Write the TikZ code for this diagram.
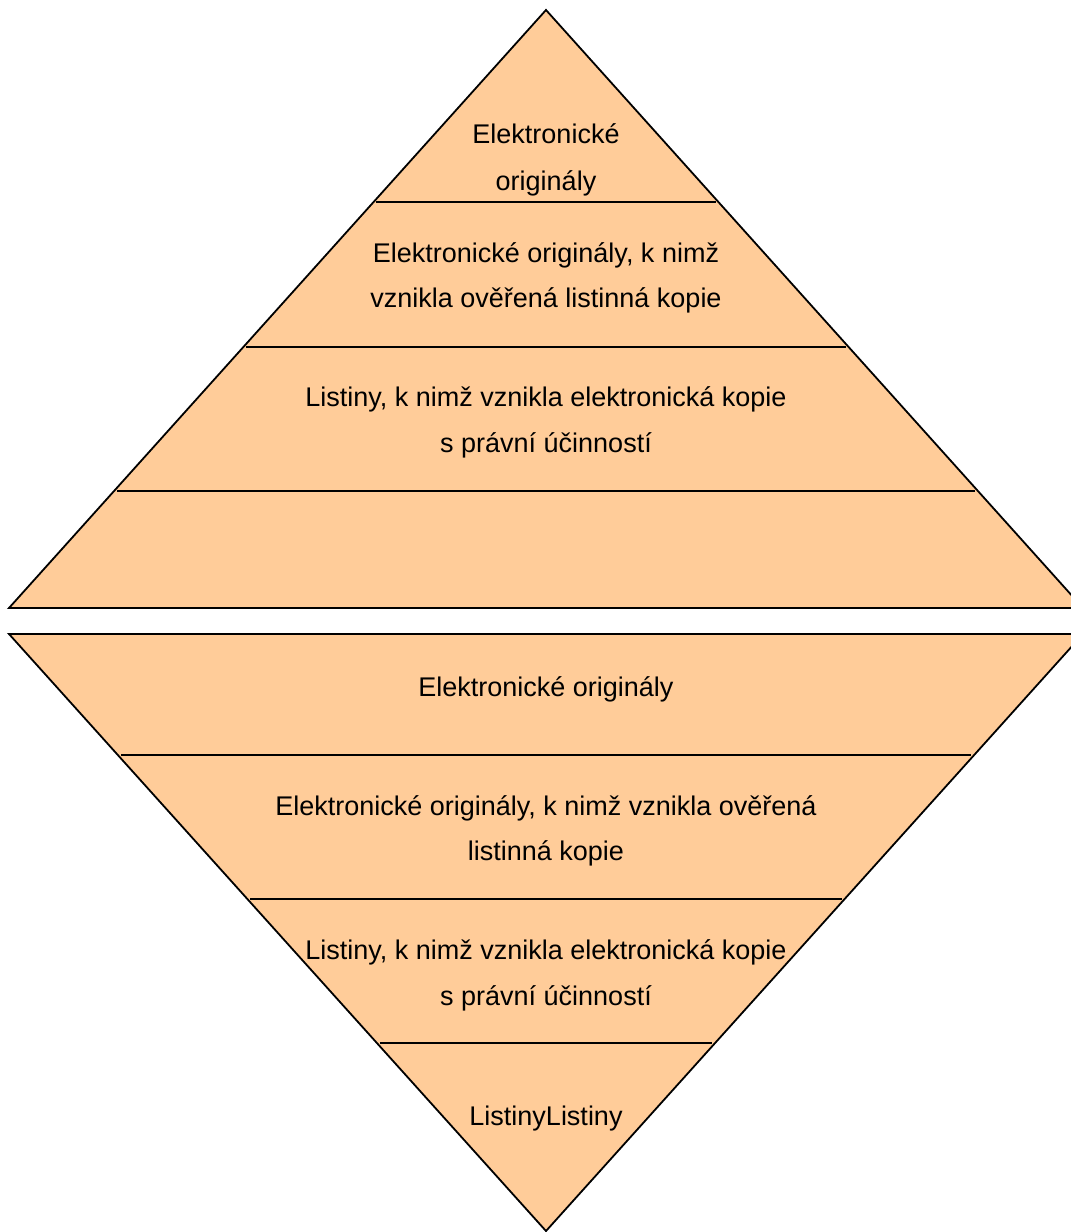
\documentclass[tikz,border=0pt]{standalone}
\usepackage{fontspec}
\setmainfont{Liberation Sans}
\definecolor{peach}{HTML}{FFCC99}
\begin{document}
\begin{tikzpicture}[x=1pt,y=-1pt,
  shape line/.style={draw=black,line width=1.8pt,line join=miter},
  divider/.style={draw=black,line width=1.8pt},
  lbl/.style={anchor=base,inner sep=0pt,font=\fontsize{27}{46}\selectfont}]
\useasboundingbox (0,0) rectangle (1071,1232);
\begin{scope}
\clip (0,0) rectangle (1071,1232);
% upper pyramid
\path[shape line,fill=peach] (546,10) -- (9,608) -- (1083,608) -- cycle;
\draw[divider] (376,202) -- (716,202);
\draw[divider] (246,347) -- (846,347);
\draw[divider] (117,491) -- (975,491);
% lower (inverted) pyramid
\path[shape line,fill=peach] (9,634) -- (1083,634) -- (546,1231) -- cycle;
\draw[divider] (121,755) -- (971,755);
\draw[divider] (250,899) -- (842,899);
\draw[divider] (380,1043) -- (712,1043);
\end{scope}
% upper labels
\node[lbl] (u1a) at (546,143) {Elektronické};
\node[lbl] (u1b) at (546,190) {originály};
\node[lbl] (u2a) at (546,262) {Elektronické originály, k nimž};
\node[lbl] (u2b) at (546,307) {vznikla ověřená listinná kopie};
\node[lbl] (u3a) at (546,406) {Listiny, k nimž vznikla elektronická kopie};
\node[lbl] (u3b) at (546,452) {s právní účinností};
% lower labels
\node[lbl] (l1) at (546,696) {Elektronické originály};
\node[lbl] (l2a) at (546,815) {Elektronické originály, k nimž vznikla ověřená};
\node[lbl] (l2b) at (546,860) {listinná kopie};
\node[lbl] (l3a) at (546,959) {Listiny, k nimž vznikla elektronická kopie};
\node[lbl] (l3b) at (546,1005) {s právní účinností};
\node[lbl] (l4) at (546,1125) {ListinyListiny};
\end{tikzpicture}
\end{document}
